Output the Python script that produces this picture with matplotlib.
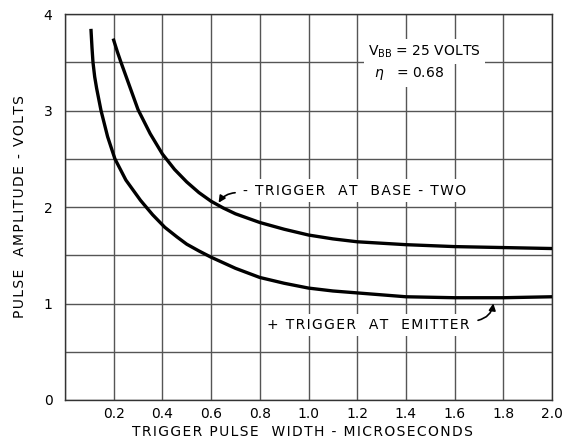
import matplotlib
matplotlib.use("Agg")
import matplotlib.pyplot as plt

# pulse width (microseconds) / amplitude (volts)
base_two_x = [0.20, 0.215, 0.23, 0.26, 0.30, 0.35, 0.40, 0.45, 0.50, 0.55, 0.60, 0.65, 0.70,
              0.80, 0.90, 1.0, 1.1, 1.2, 1.4, 1.6, 1.8, 2.0]
base_two_y = [3.73, 3.61, 3.50, 3.29, 3.01, 2.76, 2.55, 2.39, 2.26, 2.15, 2.06, 1.99, 1.93,
              1.84, 1.77, 1.71, 1.67, 1.64, 1.61, 1.59, 1.58, 1.57]

emitter_x = [0.107, 0.111, 0.115, 0.122, 0.13, 0.148, 0.175, 0.205, 0.25, 0.31, 0.36, 0.41,
             0.46, 0.50, 0.55, 0.60, 0.70, 0.80, 0.90, 1.0, 1.1, 1.2, 1.3, 1.4, 1.6, 1.8, 2.0]
emitter_y = [3.83, 3.65, 3.50, 3.35, 3.23, 3.00, 2.73, 2.50, 2.28, 2.07, 1.92, 1.79,
             1.69, 1.615, 1.545, 1.48, 1.365, 1.27, 1.21, 1.16, 1.13, 1.11, 1.09, 1.07, 1.06, 1.06, 1.07]

x_ticks = [0.2, 0.4, 0.6, 0.8, 1.0, 1.2, 1.4, 1.6, 1.8, 2.0]
y_ticks = [0, 1, 2, 3, 4]

plt.rcParams["font.family"] = ["DejaVu Sans"]


def spaced(s):
    # the lettering in the original is widely spaced
    return "\u200a".join(s)


fig = plt.figure(figsize=(5.67, 4.41), dpi=100)
ax = fig.add_axes([0.1146, 0.093, 0.859, 0.875])

ax.set_xlim(0, 2.0)
ax.set_ylim(0, 4)
ax.set_xticks([i * 0.2 for i in range(11)])
ax.set_xticklabels([""] + [f"{v:.1f}" for v in x_ticks])
half_steps = [i * 0.5 for i in range(9)]
ax.set_yticks(half_steps)
ax.set_yticklabels([str(int(v)) if v in y_ticks else "" for v in half_steps])
ax.tick_params(length=0, labelsize=10)
ax.tick_params(axis="x", pad=5)
ax.tick_params(axis="y", pad=9)
ax.grid(True, color="#555555", lw=1.0)
for s in ax.spines.values():
    s.set_color("#333333")
    s.set_linewidth(1.0)

ax.plot(base_two_x, base_two_y, color="black", lw=2.4, zorder=3)
ax.plot(emitter_x, emitter_y, color="black", lw=2.4, zorder=3)

ax.set_xlabel(spaced("TRIGGER PULSE  WIDTH - MICROSECONDS"), fontsize=10, labelpad=3)
ax.xaxis.set_label_coords(0.487, -0.065)
ax.set_ylabel(spaced("PULSE  AMPLITUDE - VOLTS"), fontsize=10, labelpad=12)

box = dict(facecolor="white", edgecolor="none", pad=3)
ax.text(1.245, 3.61, "$\\mathregular{V_{BB}}$ = 25 VOLTS", fontsize=10, va="center", bbox=box, zorder=4)
ax.text(1.27, 3.38, "$\\eta$   = 0.68", fontsize=10, va="center", bbox=box, zorder=4)

ax.text(0.73, 2.17, spaced("- TRIGGER  AT  BASE - TWO"), fontsize=10, va="center", bbox=box, zorder=4)
ax.annotate("", xy=(0.625, 2.02), xytext=(0.71, 2.15),
            arrowprops=dict(arrowstyle="-|>", color="black", lw=1.2,
                            connectionstyle="arc3,rad=0.3", mutation_scale=10), zorder=5)

ax.text(0.83, 0.78, spaced("+ TRIGGER  AT  EMITTER"), fontsize=10, va="center", bbox=box, zorder=4)
ax.annotate("", xy=(1.76, 1.03), xytext=(1.685, 0.82),
            arrowprops=dict(arrowstyle="-|>", color="black", lw=1.2,
                            connectionstyle="arc3,rad=0.4", mutation_scale=10), zorder=5)

fig.savefig("out.png", dpi=100)
